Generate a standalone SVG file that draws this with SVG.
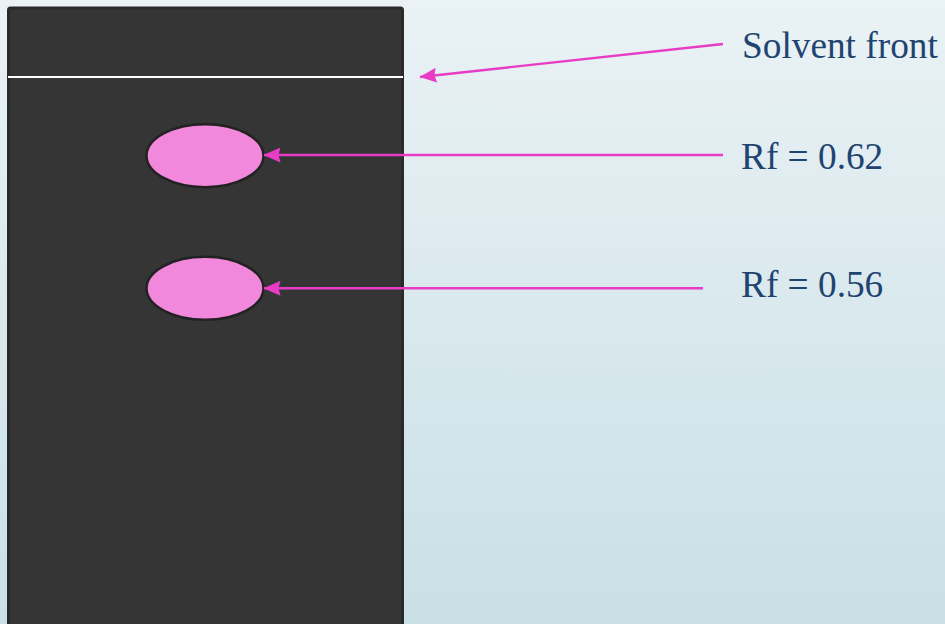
<svg xmlns="http://www.w3.org/2000/svg" width="945" height="624" viewBox="0 0 945 624">
<defs>
<linearGradient id="bg" x1="0" y1="0" x2="0" y2="1">
<stop offset="0" stop-color="#EAF2F5"/>
<stop offset="1" stop-color="#C9E0E6"/>
</linearGradient>
<marker id="ah" viewBox="0 0 17 15" refX="16.5" refY="7.5" markerWidth="17" markerHeight="15" markerUnits="userSpaceOnUse" orient="auto">
<path d="M0,0 L17,7.5 L0,15 L2,7.5 Z" fill="#E83CC6"/>
</marker>
<style>
.lbl{font-family:"Liberation Serif","Times New Roman",serif;font-size:37.3px;fill:#1F4470}
.conn{stroke:#E83CC6;stroke-width:2.4;fill:none;marker-end:url(#ah)}
.spot{fill:#F188DB;stroke:#222222;stroke-width:2.5}
</style>
</defs>
<rect x="0" y="0" width="945" height="624" fill="url(#bg)"/>
<g id="plate">
<rect x="8.5" y="8" width="394" height="640" rx="2" fill="#353535" stroke="#2A2A2A" stroke-width="3"/>
<line x1="8" y1="77" x2="403" y2="77" stroke="#FFFFFF" stroke-width="2"/>
</g>
<g id="spot1"><ellipse class="spot" cx="205" cy="155.7" rx="58.5" ry="31.5"/></g>
<g id="spot2"><ellipse class="spot" cx="205" cy="288.3" rx="58.5" ry="31.5"/></g>
<g id="label-solvent"><text class="lbl" x="742" y="57.5">Solvent front</text></g>
<g id="label-rf1"><text class="lbl" x="741" y="169">Rf = 0.62</text></g>
<g id="label-rf2"><text class="lbl" x="741" y="297">Rf = 0.56</text></g>
<g id="connectors">
<line class="conn" x1="723" y1="44" x2="420" y2="77"/>
<line class="conn" x1="723" y1="155" x2="264" y2="155"/>
<line class="conn" x1="703" y1="288.3" x2="264" y2="288.3"/>
</g>
</svg>
